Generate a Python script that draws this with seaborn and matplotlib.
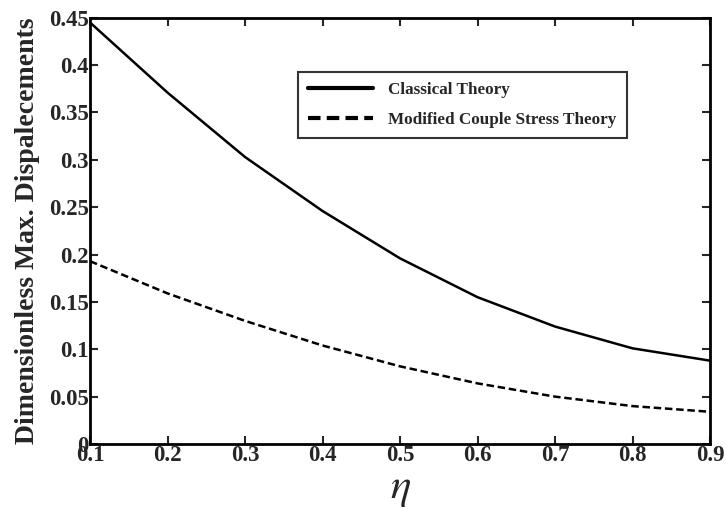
import pandas as pd
import matplotlib.pyplot as plt
import seaborn as sns

eta = [0.1, 0.2, 0.3, 0.4, 0.5, 0.6, 0.7, 0.8, 0.9]
classical = [0.445, 0.371, 0.303, 0.246, 0.196, 0.155, 0.124, 0.101, 0.088]
modified = [0.193, 0.159, 0.130, 0.104, 0.082, 0.064, 0.050, 0.040, 0.034]

df = pd.DataFrame({'eta': eta * 2,
                   'w': classical + modified,
                   'Theory': ['Classical Theory'] * len(eta) + ['Modified Couple Stress Theory'] * len(eta)})

sns.set_style('ticks')
plt.rcParams['font.family'] = ['Liberation Serif', 'DejaVu Serif']
plt.rcParams['mathtext.fontset'] = 'stix'

fig = plt.figure(figsize=(7.26, 5.08), dpi=100)
ax = fig.add_axes([0.124, 0.126, 0.854, 0.839])

sns.lineplot(data=df, x='eta', y='w', hue='Theory', style='Theory',
             palette=['black', 'black'], dashes=[(None, None), (3, 1.5)],
             linewidth=1.8, ax=ax)

ax.set_xlim(0.1, 0.9)
ax.set_ylim(0, 0.45)
ax.set_xticks([0.1, 0.2, 0.3, 0.4, 0.5, 0.6, 0.7, 0.8, 0.9])
ax.set_xticklabels(['0.1', '0.2', '0.3', '0.4', '0.5', '0.6', '0.7', '0.8', '0.9'])
ax.set_yticks([0, 0.05, 0.1, 0.15, 0.2, 0.25, 0.3, 0.35, 0.4, 0.45])
ax.set_yticklabels(['0', '0.05', '0.1', '0.15', '0.2', '0.25', '0.3', '0.35', '0.4', '0.45'])
ax.tick_params(direction='in', top=True, right=True, length=6, width=1.5, labelsize=16.5, pad=1)
for lbl in ax.get_xticklabels() + ax.get_yticklabels():
    lbl.set_fontweight('bold')
for s in ax.spines.values():
    s.set_linewidth(2)
    s.set_color('black')

ax.set_xlabel(r'$\eta$', fontsize=31, labelpad=3)
ax.set_ylabel('Dimensionless Max. Dispalecements', fontsize=20, fontweight='bold')
ax.yaxis.set_label_coords(-0.08, 0.5)

leg = ax.legend(loc='upper left', bbox_to_anchor=(0.335, 0.873), frameon=True, fancybox=False,
                edgecolor='black', prop={'weight': 'bold', 'size': 12.3}, handlelength=3.8,
                handletextpad=0.9, borderpad=0.6, labelspacing=0.8, borderaxespad=0)
leg.get_frame().set_linewidth(1.5)
for line in leg.get_lines():
    line.set_linewidth(3)

fig.savefig('out.png', dpi=100)
